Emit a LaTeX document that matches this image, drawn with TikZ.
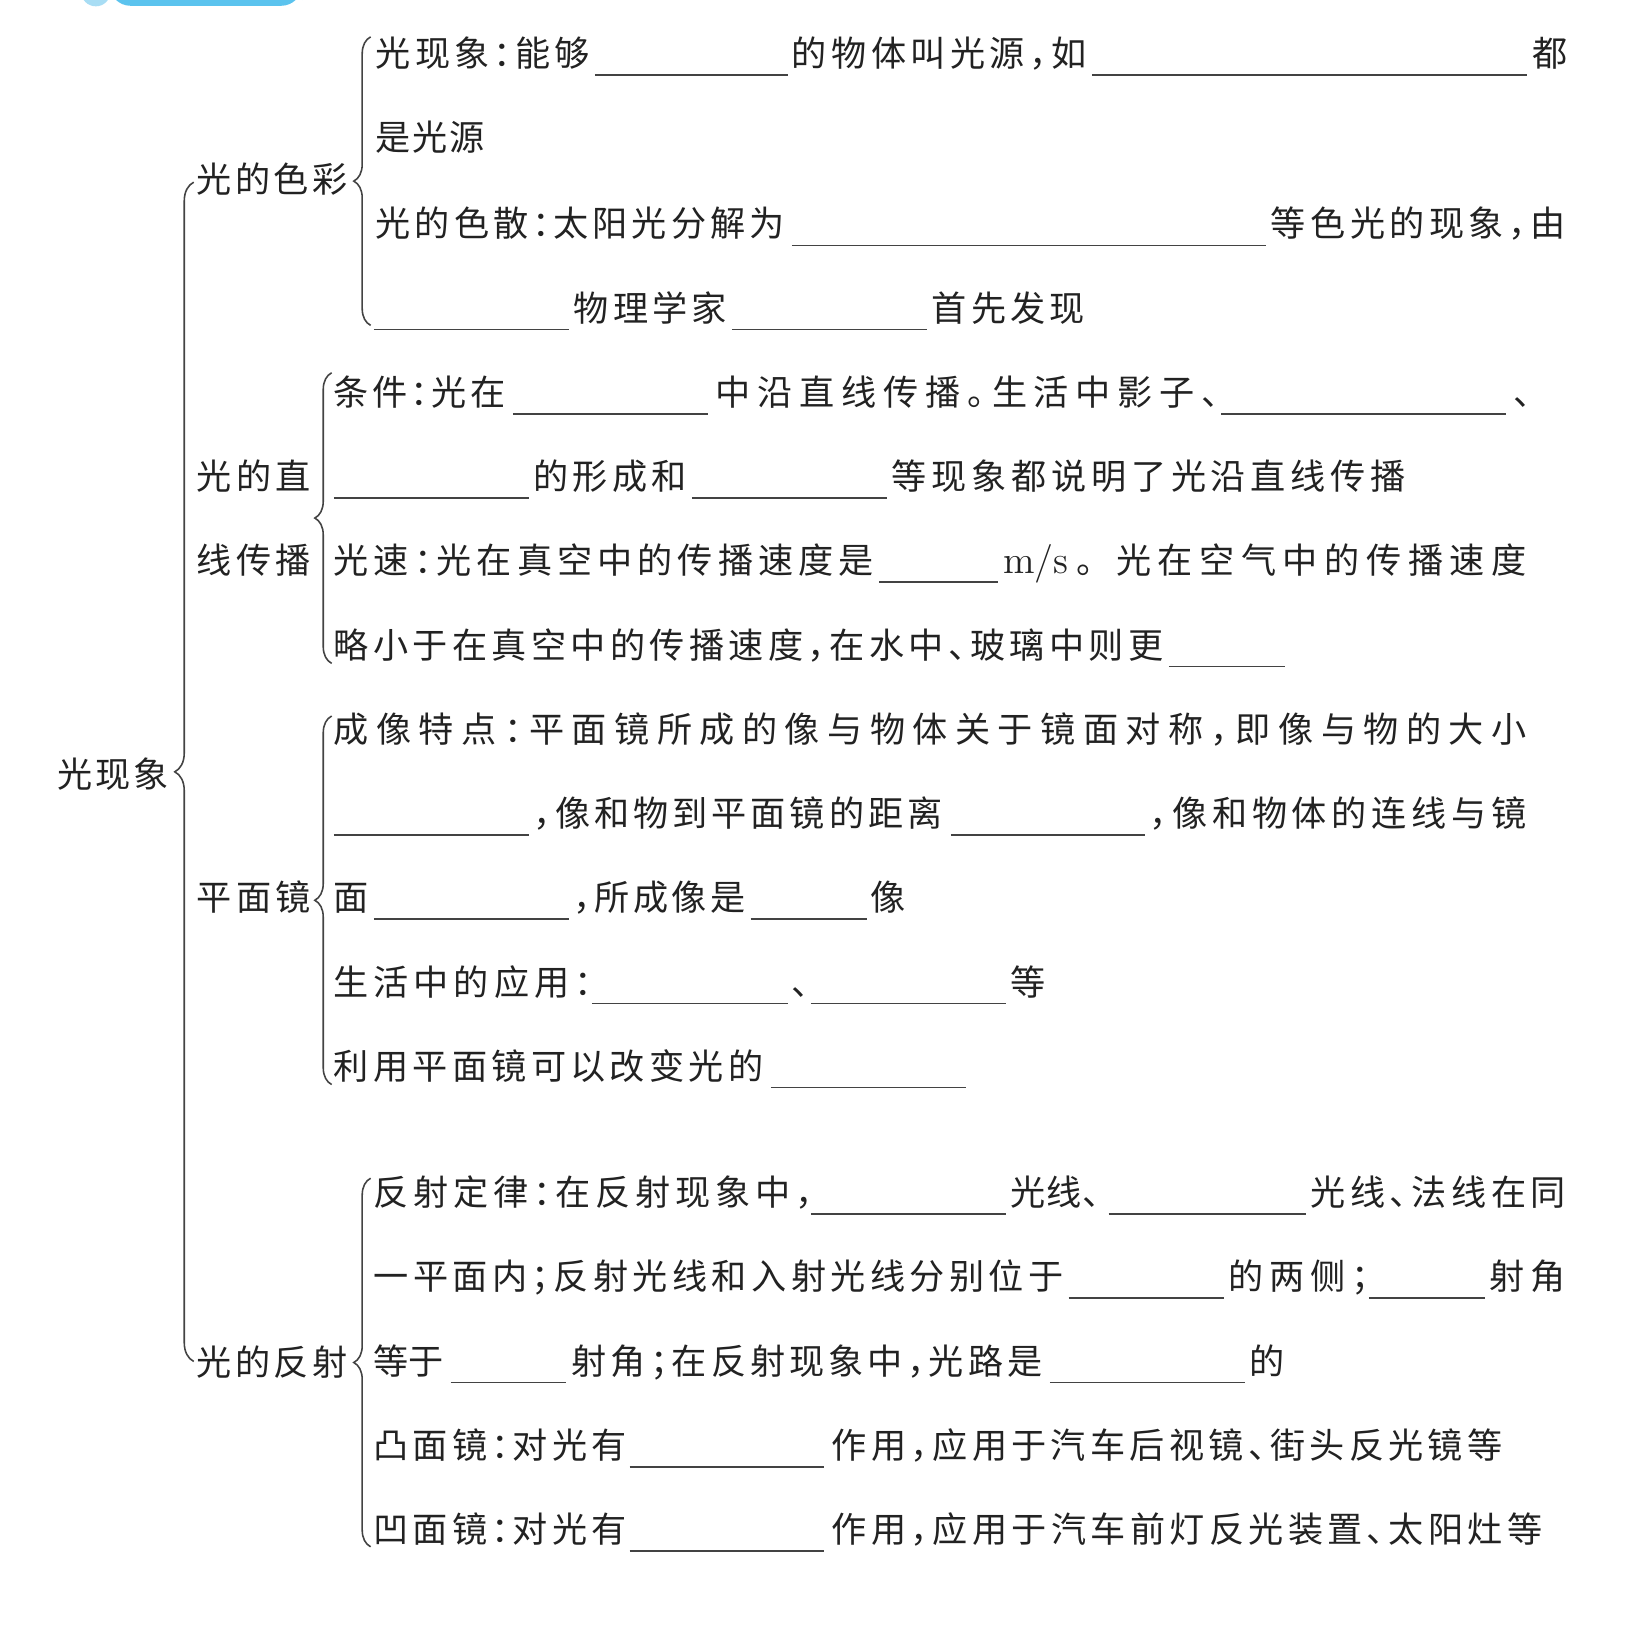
\documentclass[tikz,border=0pt]{standalone}
\usepackage{fontspec}
\newfontfamily\cjk{Noto Sans CJK SC}
\usetikzlibrary{decorations.pathreplacing}
\definecolor{ink}{HTML}{222222}
\definecolor{bannerblue}{HTML}{5BC3EE}
\definecolor{bannerlight}{HTML}{A8DDF4}
\hbadness=10000

% spread the characters of #2 evenly over a box of width #1,
% punctuation set half width
\ExplSyntaxOn
\NewDocumentCommand\spreadto{mm}
  {
    \hbox_to_wd:nn {#1}
      {
        \bool_set_true:N \l_tmpa_bool
        \tl_map_inline:nn {#2}
          {
            \bool_if:NF \l_tmpa_bool { \hfil }
            \bool_set_false:N \l_tmpa_bool
            \tl_if_in:nnTF { ，：；、。 } {##1}
              { \hbox_to_wd:nn {0.5em} { ##1 \hss } }
              { ##1 }
          }
      }
  }
\ExplSyntaxOff

% name, x from, x to, row, text
\newcommand\seg[5]{\node[segtext] (#1) at (#2,#4+13) {\spreadto{\dimexpr 0.01053cm*(#3-#2)\relax}{#5}};}
% x from, x to, row
\newcommand\blank[3]{\draw[blankline] (#1,#3+21) -- (#2,#3+21);}

\begin{document}
\begin{tikzpicture}[
        x=0.01053cm, y=-0.01053cm,
        segtext/.style={anchor=base west, inner sep=0pt, outer sep=0pt, text=ink, font=\cjk\fontsize{10}{12}\selectfont},
        blankline/.style={ink!85, line width=0.45pt},
        bracepath/.style={draw=ink!85, line width=0.45pt, decorate}
    ]
        \useasboundingbox (0,0) rectangle (1568,1555);

        % banner cut by the top edge
        \fill[bannerlight] (91,-8) circle (14);
        \fill[bannerblue, rounded corners=6] (104,-20) rectangle (287,5.5);

        % Root and first level
        \seg{root}{55}{160}{735}{光现象}
        \seg{color}{187}{330}{170}{光的色彩}
        \seg{straightA}{187}{295}{452}{光的直}
        \seg{straightB}{187}{295}{532}{线传播}
        \seg{mirror}{187}{295}{852}{平面镜}
        \seg{reflect}{187}{330}{1293}{光的反射}

        % Braces
        \coordinate (rootTop) at (184,173);
        \coordinate (rootBot) at (184,1293);
        \coordinate (colorTop) at (352,35);
        \coordinate (colorBot) at (352,309);
        \coordinate (straightTop) at (315,354);
        \coordinate (straightBot) at (315,630);
        \coordinate (mirrorTop) at (315,680);
        \coordinate (mirrorBot) at (315,1030);
        \coordinate (reflectTop) at (352,1119);
        \coordinate (reflectBot) at (352,1469);

        \draw[bracepath, decoration={brace, amplitude=5.4pt}] (rootBot) -- (rootTop);
        \draw[bracepath, decoration={brace, amplitude=4.8pt}] (colorBot) -- (colorTop);
        \draw[bracepath, decoration={brace, amplitude=4.8pt}] (straightBot) -- (straightTop);
        \draw[bracepath, decoration={brace, amplitude=4.8pt}] (mirrorBot) -- (mirrorTop);
        \draw[bracepath, decoration={brace, amplitude=4.8pt}] (reflectBot) -- (reflectTop);

        % 光的色彩
        \seg{r1a}{357}{560}{50}{光现象：能够}
        \blank{565}{748}{50}
        \seg{r1b}{752}{1032}{50}{的物体叫光源，如}
        \blank{1037}{1450}{50}
        \seg{r1c}{1455}{1487}{50}{都}
        \seg{r2a}{357}{460}{130}{是光源}
        \seg{r3a}{357}{745}{212}{光的色散：太阳光分解为}
        \blank{752}{1202}{212}
        \seg{r3b}{1207}{1487}{212}{等色光的现象，由}
        \blank{355}{540}{292}
        \seg{r4a}{545}{690}{292}{物理学家}
        \blank{695}{880}{292}
        \seg{r4b}{885}{1030}{292}{首先发现}

        % 光的直线传播
        \seg{r5a}{317}{480}{372}{条件：光在}
        \blank{487}{672}{372}
        \seg{r5b}{680}{1158}{372}{中沿直线传播。生活中影子、}
        \blank{1160}{1430}{372}
        \seg{r5c}{1437}{1470}{372}{、}
        \blank{317}{502}{452}
        \seg{r6a}{507}{652}{452}{的形成和}
        \blank{657}{842}{452}
        \seg{r6b}{847}{1335}{452}{等现象都说明了光沿直线传播}
        \seg{r7a}{317}{830}{532}{光速：光在真空中的传播速度是}
        \blank{835}{948}{532}
        \node[segtext, font=\rmfamily\fontsize{11}{13}\selectfont] (r7b) at (953,545) {m/s};
        \seg{r7c}{1022}{1055}{532}{。}
        \seg{r7d}{1060}{1450}{532}{光在空气中的传播速度}
        \seg{r8a}{317}{1105}{612}{略小于在真空中的传播速度，在水中、玻璃中则更}
        \blank{1110}{1220}{612}

        % 平面镜
        \seg{r9a}{317}{1450}{692}{成像特点：平面镜所成的像与物体关于镜面对称，即像与物的大小}
        \blank{317}{502}{772}
        \seg{r10a}{507}{895}{772}{，像和物到平面镜的距离}
        \blank{903}{1087}{772}
        \seg{r10b}{1092}{1450}{772}{，像和物体的连线与镜}
        \seg{r11a}{317}{350}{852}{面}
        \blank{355}{540}{852}
        \seg{r11b}{545}{708}{852}{，所成像是}
        \blank{713}{823}{852}
        \seg{r11c}{827}{860}{852}{像}
        \seg{r12a}{317}{562}{932}{生活中的应用：}
        \blank{562}{748}{932}
        \seg{r12b}{752}{785}{932}{、}
        \blank{770}{955}{932}
        \seg{r12c}{960}{993}{932}{等}
        \seg{r13a}{317}{725}{1012}{利用平面镜可以改变光的}
        \blank{732}{917}{1012}

        % 光的反射
        \seg{r14a}{355}{772}{1132}{反射定律：在反射现象中，}
        \blank{770}{955}{1132}
        \seg{r14b}{960}{1045}{1132}{光线、}
        \blank{1053}{1240}{1132}
        \seg{r14c}{1245}{1487}{1132}{光线、法线在同}
        \seg{r15a}{355}{1010}{1212}{一平面内；反射光线和入射光线分别位于}
        \blank{1015}{1162}{1212}
        \seg{r15b}{1167}{1300}{1212}{的两侧；}
        \blank{1300}{1410}{1212}
        \seg{r15c}{1415}{1487}{1212}{射角}
        \seg{r16a}{355}{410}{1292}{等于}
        \blank{428}{538}{1292}
        \seg{r16b}{543}{990}{1292}{射角；在反射现象中，光路是}
        \blank{997}{1182}{1292}
        \seg{r16c}{1187}{1220}{1292}{的}
        \seg{r17a}{355}{595}{1372}{凸面镜：对光有}
        \blank{598}{783}{1372}
        \seg{r17b}{790}{1427}{1372}{作用，应用于汽车后视镜、街头反光镜等}
        \seg{r18a}{355}{595}{1452}{凹面镜：对光有}
        \blank{598}{783}{1452}
        \seg{r18b}{790}{1465}{1452}{作用，应用于汽车前灯反光装置、太阳灶等}

    \end{tikzpicture}
\end{document}
